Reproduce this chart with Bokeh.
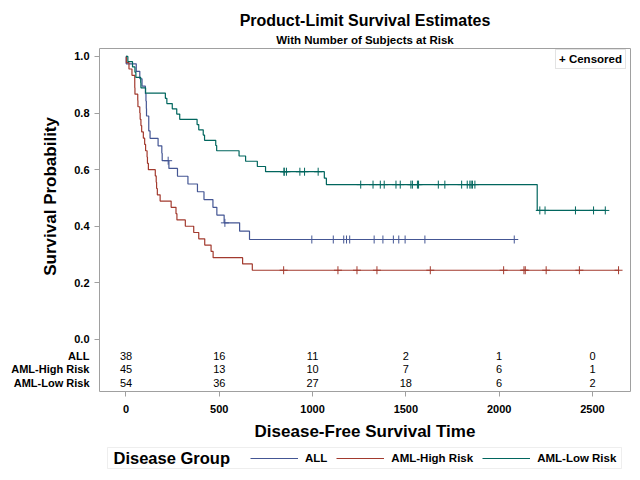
import numpy as np
from bokeh.plotting import figure
from bokeh.layouts import column
from bokeh.models import Range1d, FixedTicker, Legend, LegendItem, LinearAxis, Title, BoxAnnotation
from bokeh.core.properties import value
from bokeh.embed import file_html
from bokeh.resources import INLINE

FONT = "Liberation Sans"

groups = ["ALL", "AML-High Risk", "AML-Low Risk"]
colors = ["#445694", "#A23A2E", "#01665E"]

# Bone marrow transplant data: disease-free survival time and status (1=event, 0=censored)
all_time = [2081, 1602, 1496, 1462, 1433, 1377, 1330, 996, 226, 1199, 1111, 530, 1182, 1167,
            418, 383, 276, 104, 609, 172, 487, 662, 194, 230, 526, 122, 129, 74, 122, 86,
            466, 192, 109, 55, 1, 107, 110, 332]
all_status = [0] * 14 + [1] * 24

high_time = [2640, 2430, 2252, 2140, 2133, 1238, 1631, 2024, 1345, 1136, 845,
             422, 162, 84, 100, 2, 47, 242, 456, 268, 318, 32, 467, 47, 390, 183, 105, 115,
             164, 93, 120, 80, 677, 64, 168, 74, 16, 157, 625, 48, 273, 63, 76, 113, 363]
high_status = [0] * 11 + [1] * 34

low_time = [2569, 2506, 2409, 2218, 1857, 1829, 1562, 1470, 1363, 1030, 860, 1258, 2246, 1870,
            1799, 1709, 1674, 1568, 1527, 1324, 957, 932, 847, 848, 1850, 1843, 1535, 1447, 1384,
            414, 2204, 1063, 481, 105, 641, 390, 288, 421, 79, 748, 486, 48, 272, 1074, 381, 10,
            53, 80, 35, 248, 704, 211, 219, 606]
low_status = [0] * 29 + [1] * 25

risk_times = [0, 500, 1000, 1500, 2000, 2500]
x_ticks = [0, 500, 1000, 1500, 2000, 2500]
y_ticks = [0.0, 0.2, 0.4, 0.6, 0.8, 1.0]
y_tick_labels = ["0.0", "0.2", "0.4", "0.6", "0.8", "1.0"]
risk_rows = [-0.060, -0.106, -0.155]

data = [(all_time, all_status), (high_time, high_status), (low_time, low_status)]


def km(times, status):
    t = np.array(times, dtype=float)
    s = np.array(status)
    surv = 1.0
    xs, ys, cx, cy = [0.0], [1.0], [], []
    for u in np.unique(t):
        n = (t >= u).sum()
        d = ((t == u) & (s == 1)).sum()
        c = ((t == u) & (s == 0)).sum()
        if d > 0:
            surv *= (1 - d / n)
            xs.append(u)
            ys.append(surv)
        if c > 0:
            cx.append(u)
            cy.append(surv)
    xs.append(t.max())
    ys.append(surv)
    return xs, ys, cx, cy


p = figure(width=640, height=446, output_backend="svg", toolbar_location=None,
           x_range=Range1d(-142, 2704), y_range=Range1d(-0.184, 1.028),
           min_border_left=99, min_border_right=10, min_border_top=48, min_border_bottom=55)
p.xgrid.visible = False
p.ygrid.visible = False
p.outline_line_color = "#a0a0a0"
p.outline_line_width = 1

# titles
p.title.text = "Product-Limit Survival Estimates"
p.title.align = "center"
p.title.text_font = FONT
p.title.text_font_style = "bold"
p.title.text_font_size = "16px"
p.title.text_color = "black"
p.title.standoff = 0
p.add_layout(Title(text="With Number of Subjects at Risk", align="center", text_font=FONT,
                   text_font_style="bold", text_font_size="11.5px", text_color="black",
                   standoff=6), "above")

# x axis
xa = p.xaxis[0]
xa.ticker = FixedTicker(ticks=x_ticks)
xa.axis_line_color = None
xa.major_tick_line_color = "#a0a0a0"
xa.minor_tick_line_color = None
xa.major_tick_in = 0
xa.major_tick_out = 5
xa.major_label_standoff = 8
xa.major_label_text_font = FONT
xa.major_label_text_font_style = "bold"
xa.major_label_text_font_size = "11px"
xa.major_label_text_color = "black"
xa.axis_label = "Disease-Free Survival Time"
xa.axis_label_standoff = 6
xa.axis_label_text_font = FONT
xa.axis_label_text_font_style = "bold"
xa.axis_label_text_font_size = "17px"
xa.axis_label_text_color = "black"

# inner y axis: tick marks only
ya = p.yaxis[0]
ya.ticker = FixedTicker(ticks=y_ticks)
ya.major_label_overrides = {v: "" for v in y_ticks}
ya.axis_line_color = None
ya.major_tick_line_color = "#a0a0a0"
ya.minor_tick_line_color = None
ya.major_tick_in = 0
ya.major_tick_out = 5
ya.major_label_standoff = 0

# outer y axis: probability labels + at-risk row labels + axis title
overrides = {v: s for v, s in zip(y_ticks, y_tick_labels)}
overrides.update({v: g for v, g in zip(risk_rows, groups)})
yb = LinearAxis(ticker=FixedTicker(ticks=y_ticks + risk_rows), major_label_overrides=overrides,
                axis_line_color=None, major_tick_line_color=None, minor_tick_line_color=None,
                major_tick_in=0, major_tick_out=0, major_label_standoff=5,
                major_label_text_font=FONT, major_label_text_font_style="bold",
                major_label_text_font_size="11px", major_label_text_color="black",
                axis_label="\u00a0" * 10 + "Survival Probability", axis_label_standoff=-52,
                axis_label_text_font=FONT, axis_label_text_font_style="bold",
                axis_label_text_font_size="17px", axis_label_text_color="black")
p.add_layout(yb, "left")

line_renderers = []
for (tm, st), col in zip(data, colors):
    xs, ys, cx, cy = km(tm, st)
    r = p.step(xs, ys, mode="after", line_color=col, line_width=1.2)
    line_renderers.append(r)
    p.scatter(cx, cy, marker="cross", size=8, line_color=col, line_width=1)

# numbers at risk
for (tm, st), ry in zip(data, risk_rows):
    t = np.array(tm)
    counts = [str(int((t >= rt).sum())) for rt in risk_times]
    p.text(x=risk_times, y=[ry] * len(risk_times), text=counts, text_align="center",
           text_baseline="middle", text_font=value(FONT), text_font_size="11px", text_color="black")

# censored legend
dummy = p.scatter([np.nan], [np.nan], marker="cross", size=8, line_alpha=0, fill_alpha=0)
leg_c = Legend(items=[LegendItem(label="+ Censored", renderers=[dummy])], location=(456, 322),
               orientation="horizontal", glyph_width=0, glyph_height=10, label_standoff=0,
               padding=3, margin=0, border_line_color="#c8c8c8", background_fill_alpha=1,
               label_text_font=FONT, label_text_font_style="bold", label_text_font_size="11.5px",
               label_text_color="black", label_height=10)
p.add_layout(leg_c)

# bottom legend strip (frame aligned with the main plot's frame, pixel units)
p2 = figure(width=640, height=34, output_backend="svg", toolbar_location=None,
            x_range=Range1d(0, 531), y_range=Range1d(0, 34), x_axis_type=None, y_axis_type=None,
            min_border_left=99, min_border_right=10, min_border_top=0, min_border_bottom=0)
p2.grid.visible = False
p2.outline_line_color = None
p2.add_layout(BoxAnnotation(left=8, right=522, bottom=12, top=33, fill_alpha=0,
                            line_color="#c8c8c8", line_width=1, level="underlay"))
p2.text(x=[14], y=[22.5], text=["Disease Group"], text_align="left", text_baseline="middle",
        text_font=value(FONT), text_font_style="bold", text_font_size="16.5px", text_color="black")
dummies = [p2.line([np.nan, np.nan], [np.nan, np.nan], line_color=c, line_width=1.2) for c in colors]
leg = Legend(items=[LegendItem(label=g, renderers=[r]) for g, r in zip(groups, dummies)],
             location=(151, 15), orientation="horizontal", glyph_width=48, glyph_height=14,
             label_height=14, label_standoff=7, spacing=9, padding=0, margin=0,
             border_line_color=None, background_fill_alpha=0,
             label_text_font=FONT, label_text_font_style="bold", label_text_font_size="11.5px",
             label_text_color="black")
p2.add_layout(leg)

layout = column(p, p2)
open("out.html", "w").write(file_html(layout, INLINE))
